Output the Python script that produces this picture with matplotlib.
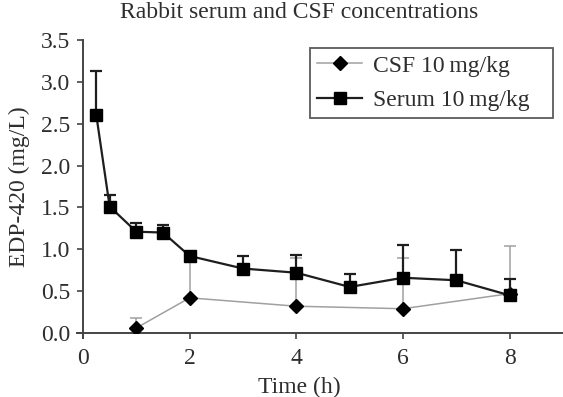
import matplotlib
matplotlib.use("Agg")
import matplotlib.pyplot as plt

plt.rcParams["font.family"] = ["Liberation Serif", "DejaVu Serif"]

# serum, 10 mg/kg
serum_t = [0.25, 0.5, 1, 1.5, 2, 3, 4, 5, 6, 7, 8]
serum_mean = [2.60, 1.51, 1.21, 1.20, 0.92, 0.77, 0.72, 0.55, 0.66, 0.63, 0.45]
serum_upper = [3.13, 1.65, 1.31, 1.29, 0.92, 0.92, 0.93, 0.71, 1.05, 0.99, 0.65]

# CSF, 10 mg/kg
csf_t = [1, 2, 4, 6, 8]
csf_mean = [0.06, 0.42, 0.32, 0.29, 0.47]
csf_upper = [0.18, 0.90, 0.90, 0.90, 1.04]

x_ticks = [0, 2, 4, 6, 8]
y_ticks = [0.0, 0.5, 1.0, 1.5, 2.0, 2.5, 3.0, 3.5]

FS = 17
TXT = "#2e2e2e"

fig = plt.figure(figsize=(5.63, 3.97), dpi=100)
ax = fig.add_axes([83 / 563, 1 - 333 / 397, 1 - 83 / 563, (333 - 40) / 397])

csf_err = [[0] * len(csf_t), [u - m for u, m in zip(csf_upper, csf_mean)]]
ax.errorbar(csf_t, csf_mean, yerr=csf_err, fmt="none", ecolor="#a0a0a0",
            elinewidth=1.1, capsize=4, capthick=1.1, zorder=2)
ax.plot(csf_t, csf_mean, color="#a0a0a0", lw=1.1, marker="D", ms=7.5,
        mfc="black", mec="black", zorder=3, label="CSF 10\u2009mg/kg\u2002\u2009")

serum_err = [[0] * len(serum_t), [u - m for u, m in zip(serum_upper, serum_mean)]]
ax.errorbar(serum_t, serum_mean, yerr=serum_err, fmt="none", ecolor="#1e1e1e",
            elinewidth=1.6, capsize=4.5, capthick=1.6, zorder=4)
ax.plot(serum_t, serum_mean, color="#1e1e1e", lw=1.6, marker="s", ms=9,
        mfc="black", mec="black", zorder=5, label="Serum 10\u2009mg/kg\u2002\u2009")

ax.set_xlim(0, 9)
ax.set_ylim(0, 3.5)
ax.set_xticks(x_ticks)
ax.set_yticks(y_ticks)
ax.set_yticklabels([f"{v:.1f}" for v in y_ticks])
ax.tick_params(direction="out", length=4, width=1.2, labelsize=FS,
               colors="#444444", labelcolor=TXT, pad=5)
ax.tick_params(axis="x", pad=7)
for side in ("top", "right"):
    ax.spines[side].set_visible(False)
for side in ("left", "bottom"):
    ax.spines[side].set_linewidth(1.4)
    ax.spines[side].set_color("#444444")
ax.spines["bottom"].set_bounds(-0.12, 9)
ax.spines["left"].set_bounds(-0.06, 3.5)

ax.set_xlabel("Time (h)", fontsize=FS, color=TXT)
ax.xaxis.set_label_coords(216 / 480, -0.15)
ax.set_ylabel("EDP-420 (mg/L)", fontsize=FS, color=TXT, labelpad=8)

leg = ax.legend(loc="upper right", bbox_to_anchor=(1 - 10 / 480, 1 - 8 / 293),
                fontsize=FS, frameon=True, fancybox=False, edgecolor="#333333",
                borderpad=0.3, handlelength=1.9, handletextpad=0.45,
                labelspacing=0.56, borderaxespad=0)
leg.get_frame().set_linewidth(1.3)
for t in leg.get_texts():
    t.set_color(TXT)

fig.text(299 / 563, 1 - 18 / 397, "Rabbit serum and CSF concentrations",
         ha="center", va="baseline", fontsize=FS, color=TXT)

fig.savefig("out.png", dpi=100)
